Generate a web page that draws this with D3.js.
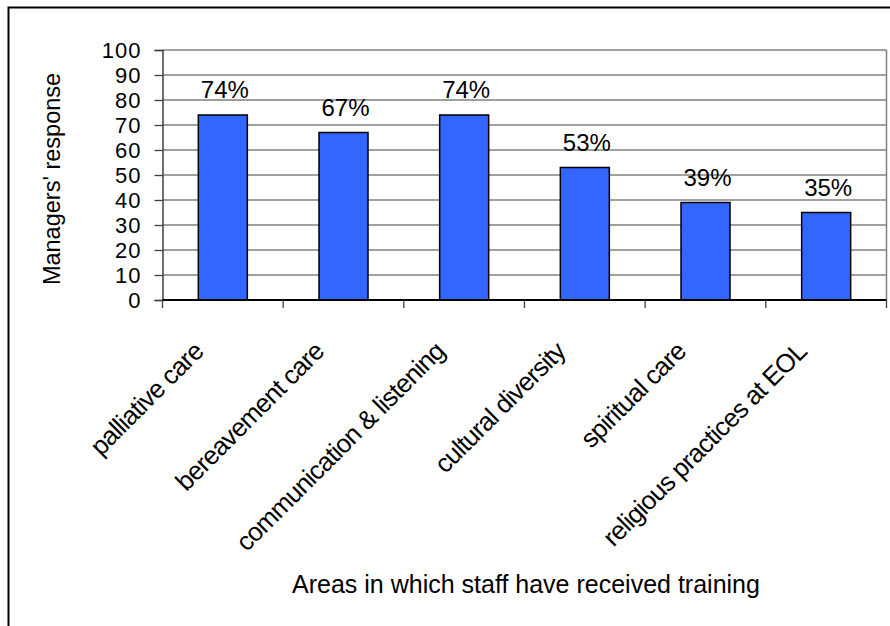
<!DOCTYPE html>
<html>
<head>
<meta charset="utf-8">
<script src="https://cdn.jsdelivr.net/npm/d3@7"></script>
<style>
  body { margin: 0; background: #fff; }
  text { font-family: "Liberation Sans", Arial, sans-serif; fill: #000; }
</style>
</head>
<body>
<script>
// chart data
var categories = ["palliative care", "bereavement care", "communication & listening",
                  "cultural diversity", "spiritual care", "religious practices at EOL"];
var values = [74, 67, 74, 53, 39, 35];
var yTicks = [0, 10, 20, 30, 40, 50, 60, 70, 80, 90, 100];

var w = 890;
var h = 626;
var plotLeft = 162.5, plotRight = 886.5, plotTop = 50, plotBottom = 300;

var svg = d3.select("body")
            .append("svg")
            .attr("width", w)
            .attr("height", h);

// outer frame (runs off the right and bottom edge)
svg.append("rect")
   .attr("x", 8.5)
   .attr("y", 7.5)
   .attr("width", 900)
   .attr("height", 700)
   .attr("fill", "none")
   .attr("stroke", "#000")
   .attr("stroke-width", 2);

var xScale = d3.scaleBand()
               .domain(categories)
               .range([plotLeft, plotRight])
               .paddingInner(0)
               .paddingOuter(0);

var yScale = d3.scaleLinear()
               .domain([0, 100])
               .range([plotBottom, plotTop]);

// gridlines
svg.selectAll(".grid")
   .data(yTicks.slice(1))
   .enter()
   .append("line")
   .attr("class", "grid")
   .attr("x1", plotLeft)
   .attr("x2", plotRight)
   .attr("y1", function(d) { return yScale(d); })
   .attr("y2", function(d) { return yScale(d); })
   .attr("stroke", "#808080")
   .attr("stroke-width", 1.3);

// right border of plot
svg.append("line")
   .attr("x1", plotRight).attr("x2", plotRight)
   .attr("y1", plotTop).attr("y2", plotBottom)
   .attr("stroke", "#808080")
   .attr("stroke-width", 1.5);

// bars
var barW = 49;
svg.selectAll(".bar")
   .data(values)
   .enter()
   .append("rect")
   .attr("class", "bar")
   .attr("x", function(d, i) { return xScale(categories[i]) + xScale.bandwidth() / 2 - barW / 2; })
   .attr("y", function(d) { return yScale(d); })
   .attr("width", barW)
   .attr("height", function(d) { return plotBottom - yScale(d); })
   .attr("fill", "#3366FF")
   .attr("stroke", "#000")
   .attr("stroke-width", 1.5);

// value labels
svg.selectAll(".val")
   .data(values)
   .enter()
   .append("text")
   .attr("class", "val")
   .attr("x", function(d, i) { return xScale(categories[i]) + xScale.bandwidth() / 2 + 2; })
   .attr("y", function(d) { return yScale(d) - 17; })
   .attr("text-anchor", "middle")
   .style("font-size", "24px")
   .text(function(d) { return d + "%"; });

// y axis
var yAxis = d3.axisLeft(yScale)
              .tickValues(yTicks)
              .tickSize(8)
              .tickPadding(13)
              .tickFormat(d3.format("d"));

var gy = svg.append("g")
            .attr("transform", "translate(" + plotLeft + ",0)")
            .call(yAxis);
gy.select(".domain").attr("stroke", "#404040").attr("stroke-width", 1.5);
gy.selectAll(".tick line").attr("stroke", "#404040").attr("stroke-width", 1.3);
gy.selectAll(".tick text")
  .style("font-size", "22px")
  .style("letter-spacing", "1px")
  .style("font-family", "Liberation Sans, Arial, sans-serif")
  .attr("dy", "0.36em");

// x axis line and boundary ticks
var bounds = categories.map(function(c) { return xScale(c); }).concat([plotRight]);
svg.append("line")
   .attr("x1", plotLeft).attr("x2", plotRight)
   .attr("y1", plotBottom).attr("y2", plotBottom)
   .attr("stroke", "#000")
   .attr("stroke-width", 2);
svg.selectAll(".xtick")
   .data(bounds)
   .enter()
   .append("line")
   .attr("class", "xtick")
   .attr("x1", function(d) { return d; })
   .attr("x2", function(d) { return d; })
   .attr("y1", plotBottom)
   .attr("y2", plotBottom + 8)
   .attr("stroke", "#404040")
   .attr("stroke-width", 1.3);

// rotated category labels
svg.selectAll(".xlab")
   .data(categories)
   .enter()
   .append("text")
   .attr("class", "xlab")
   .attr("text-anchor", "end")
   .attr("transform", function(d) {
     return "translate(" + (xScale(d) + xScale.bandwidth() / 2 - 18) + "," + (plotBottom + 53) + ") rotate(-45)";
   })
   .style("font-size", "26px")
   .style("letter-spacing", "-0.8px")
   .text(function(d) { return d; });

// axis titles
svg.append("text")
   .attr("transform", "translate(60,179) rotate(-90)")
   .attr("text-anchor", "middle")
   .style("font-size", "23.5px")
   .text("Managers' response");

svg.append("text")
   .attr("x", 526)
   .attr("y", 593)
   .attr("text-anchor", "middle")
   .style("font-size", "25px")
   .text("Areas in which staff have received training");
</script>
</body>
</html>
